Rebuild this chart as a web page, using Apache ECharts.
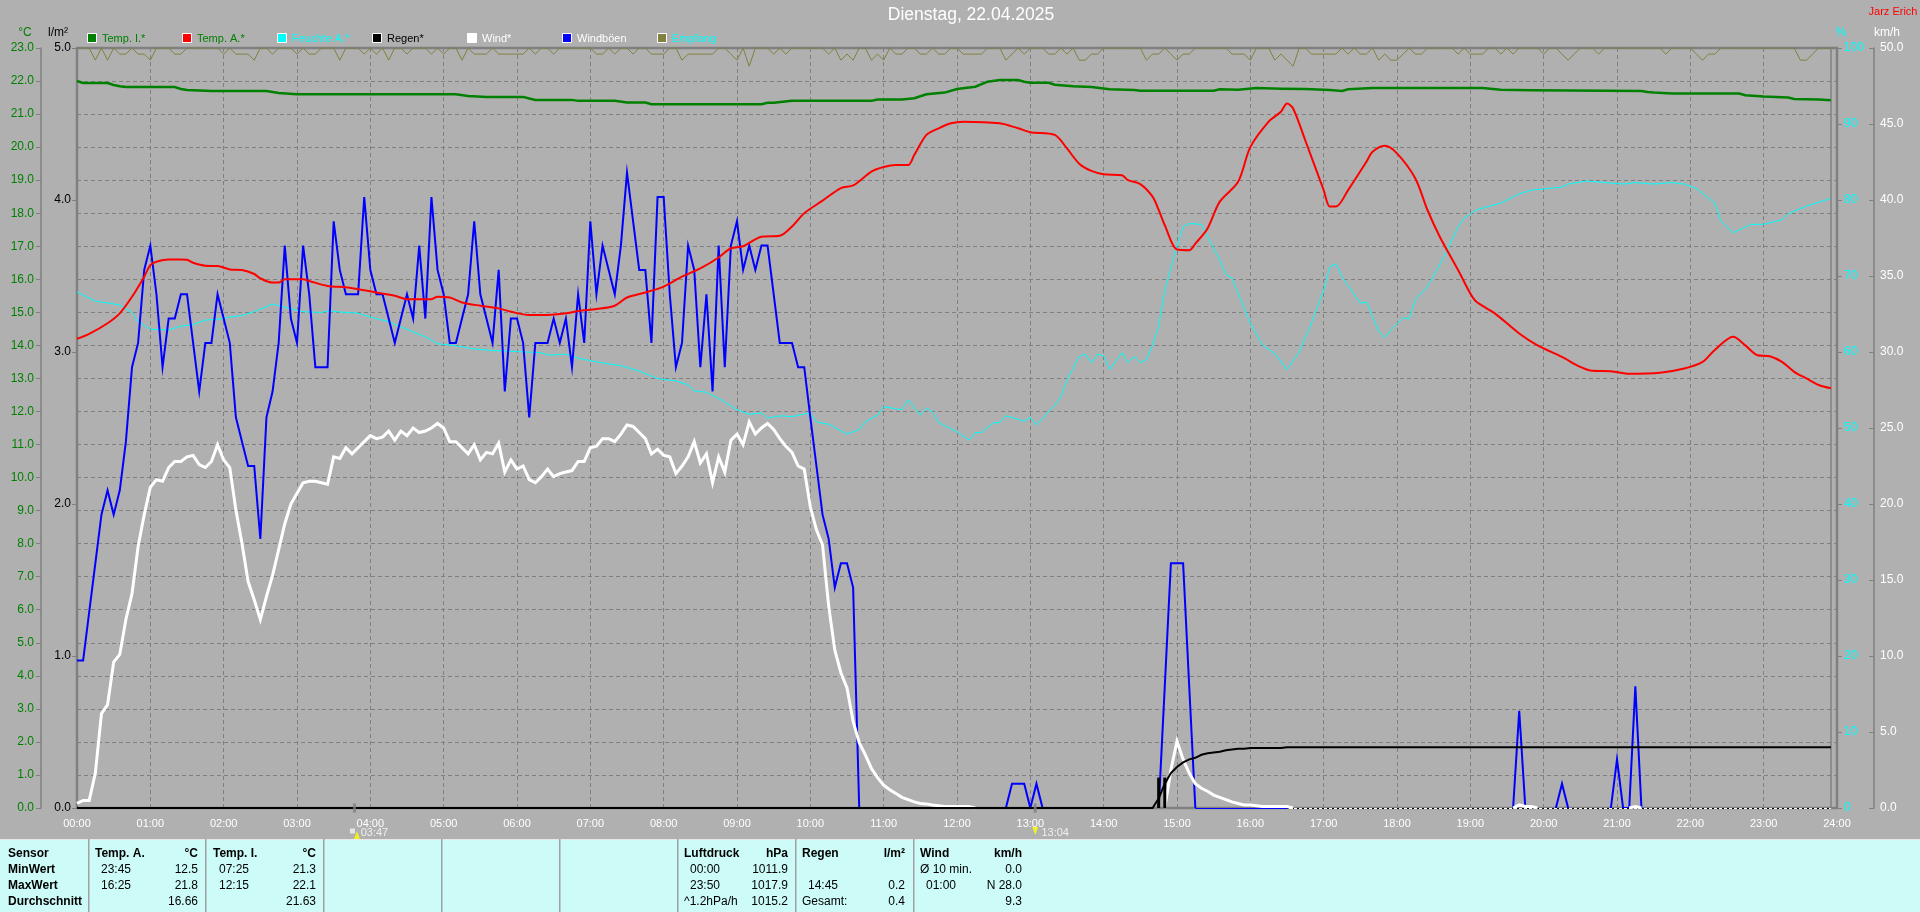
<!DOCTYPE html>
<html>
<head>
<meta charset="utf-8">
<title>Dienstag, 22.04.2025</title>
<script src="https://cdn.jsdelivr.net/npm/echarts@6/dist/echarts.min.js"></script>
<style>
html,body{margin:0;padding:0;background:#b0b0b0;overflow:hidden}
#chart{width:1920px;height:912px}
</style>
</head>
<body>
<div id="chart"></div>
<script>
// Five-minute samples, one row per hour
const gust = [
9.7,9.7,12.9,16.1,19.3,20.9,19.3,20.9,24.1,29,30.6,35.4,
37,33.8,29,32.2,32.2,33.8,33.8,30.6,27.4,30.6,30.6,33.8,
32.2,30.6,25.7,24.1,22.5,22.5,17.7,25.7,27.4,30.6,37,32.2,
30.6,37,33.8,29,29,29,38.6,35.4,33.8,33.8,33.8,40.2,
35.4,33.8,33.8,32.2,30.6,32.2,33.8,32.2,37,32.2,40.2,35.4,
33.8,30.6,30.6,32.2,33.8,38.6,33.8,32.2,30.6,35.4,27.4,32.2,
32.2,30.6,25.7,30.6,30.6,30.6,32.2,30.6,32.2,29,33.8,30.6,
38.6,33.8,37,35.4,33.8,37,41.8,38.6,35.4,35.4,30.6,40.2,
40.2,33.8,29,30.6,37,35.4,29,33.8,27.4,37,29,37,
38.6,35.4,37,35.4,37,37,33.8,30.6,30.6,30.6,29,29,
25.7,22.5,19.3,17.7,14.5,16.1,16.1,14.5,0,0,0,0,
0,0,0,0,0,0,0,0,0,0,0,0,
0,0,0,0,0,0,0,0,0,1.6,1.6,1.6,
0,1.6,0,0,0,0,0,0,0,0,0,0,
0,0,0,0,0,0,0,0,0,0,8,16.1,
16.1,16.1,8,0,0,0,0,0,0,0,0,0,
0,0,0,0,0,0,0,0,0,0,0,0,
0,0,0,0,0,0,0,0,0,0,0,0,
0,0,0,0,0,0,0,0,0,0,0,0,
0,0,0,0,0,0,0,0,6.4,0,0,0,
0,0,0,1.6,0,0,0,0,0,0,0,0,
3.2,0,0,8,0,0,0,0,0,0,0,0,
0,0,0,0,0,0,0,0,0,0,0,0,
0,0,0,0,0,0,0,0,0,0,0,0
];
const wind = [
.3,.5,.5,2.3,6.2,6.8,9.6,10.1,12.4,14.1,17.2,19.3,
21.1,21.6,21.5,22.4,22.8,22.8,23.1,23.2,22.6,22.4,22.8,23.9,
22.9,22.4,19.6,17.4,14.9,13.7,12.4,13.9,15.3,17,18.7,20,
20.7,21.4,21.5,21.5,21.4,21.3,23.1,23,23.7,23.3,23.7,24.1,
24.5,24.3,24.4,24.8,24.2,24.8,24.5,25,24.7,24.8,25,25.3,
25,24.1,24.1,23.7,23.3,23.9,22.9,23.4,23.3,24,22.1,22.9,
22.3,22.5,21.6,21.4,21.8,22.3,21.8,22,22.1,22.2,22.8,22.8,
23.7,23.8,24.3,24.3,24.1,24.6,25.2,25.1,24.7,24.3,23.3,23.6,
23.2,23.1,22,22.5,23.1,24.1,22.7,23.3,21.4,23.1,22.1,24.2,
24.6,23.9,25.4,24.6,25,25.3,24.9,24.3,23.8,23.4,22.5,22.3,
19.8,18.3,17.3,13.3,10.4,8.9,7.9,5.7,4.3,3.5,2.6,2,
1.5,1.2,.95,.7,.55,.4,.3,.27,.2,.15,.1,.1,
.1,.1,.1,0,0,0,0,0,0,0,0,0,
0,0,0,0,0,0,0,0,0,0,0,0,
0,0,0,0,0,0,0,0,0,0,0,2.5,
4.4,3.2,2.3,1.6,1.3,1.1,.85,.7,.55,.4,.3,.2,
.2,.15,.1,.1,.1,.1,.1,0,0,0,0,0,
0,0,0,0,0,0,0,0,0,0,0,0,
0,0,0,0,0,0,0,0,0,0,0,0,
0,0,0,0,0,0,0,0,.2,.1,.1,0,
0,0,0,0,0,0,0,0,0,0,0,0,
0,0,0,.1,0,0,0,0,0,0,0,0,
0,0,0,0,0,0,0,0,0,0,0,0,
0,0,0,0,0,0,0,0,0,0,0,0
];
const reception = [
100,100,100,98.4,100,98.4,100,99.2,99.2,100,99.2,99.2,
98.4,100,100,100,99.2,99.2,100,100,100,100,100,100,
99.2,100,99.2,99.2,99.2,98.4,100,100,99.2,100,100,100,
99.2,100,99.2,99.2,100,100,100,98.4,100,100,100,99.2,
100,99.2,100,98.4,100,100,99.2,100,100,100,99.2,100,
99.2,100,100,98.4,100,99.2,99.2,99.2,100,99.2,99.2,99.2,
99.2,99.2,100,99.2,100,100,99.2,100,100,100,100,100,
100,99.2,99.2,100,99.2,100,100,99.2,100,100,99.2,99.2,
99.2,100,100,98.4,99.2,99.2,99.2,99.2,99.2,100,100,99.2,
98.4,100,97.6,100,100,100,99.2,100,99.2,100,100,100,
100,100,100,99.2,100,98.4,99.2,98.4,100,100,98.4,99.2,
98.4,100,99.2,99.2,100,100,99.2,99.2,100,99.2,99.2,100,
100,99.2,99.2,99.2,99.2,100,100,100,98.4,99.2,100,99.2,
100,100,100,99.2,99.2,100,99.2,100,98.4,98.4,99.2,99.2,
100,100,100,100,100,100,100,98.4,99.2,99.2,100,99.2,
98.4,99.2,99.2,100,100,100,100,100,100,99.2,99.2,99.2,
98.4,100,100,100,98.4,99.2,98.4,97.6,100,100,99.2,99.2,
99.2,99.2,99.2,100,99.2,100,99.2,99.2,100,98.4,99.2,98.4,
98.4,99.2,100,99.2,99.2,100,100,100,100,100,99.2,100,
99.2,99.2,99.2,100,100,99.2,100,99.2,100,100,100,100,
99.2,100,100,99.2,98.4,99.2,100,100,100,99.2,100,100,
100,100,100,100,100,100,100,100,99.2,100,100,100,
100,99.2,98.4,99.2,99.2,100,100,100,100,100,100,100,
100,100,100,100,100,100,98.4,98.4,99.2,100,100,100
];
// [minute of day, reading]
const tempOutside = [[0,14.2],[10,14.35],[25,14.67],[35,14.97],[45,15.47],[55,16.08],[60,16.43],[65,16.53],[75,16.6],[85,16.6],[90,16.59],[95,16.5],[105,16.41],[115,16.4],[125,16.3],[135,16.28],[145,16.16],[150,16.03],[160,15.9],[165,15.9],[170,16],[185,16],[190,15.95],[205,15.8],[220,15.76],[230,15.7],[245,15.6],[260,15.5],[270,15.4],[290,15.4],[295,15.47],[305,15.45],[315,15.3],[330,15.2],[345,15.12],[355,15.02],[370,14.92],[385,14.92],[400,14.97],[410,15.04],[425,15.1],[440,15.2],[450,15.45],[465,15.6],[480,15.78],[495,16.08],[510,16.33],[525,16.66],[535,16.94],[545,17],[560,17.29],[575,17.32],[585,17.6],[595,18],[610,18.38],[625,18.76],[635,18.84],[650,19.26],[660,19.4],[670,19.46],[680,19.46],[685,19.76],[695,20.37],[705,20.57],[715,20.72],[725,20.77],[755,20.72],[770,20.57],[780,20.45],[800,20.37],[810,19.96],[820,19.5],[830,19.28],[840,19.18],[855,19.15],[860,19],[870,18.88],[880,18.5],[885,18.1],[890,17.64],[900,16.9],[910,16.88],[915,17.08],[925,17.54],[935,18.35],[950,18.95],[960,20],[975,20.77],[985,21.07],[990,21.32],[995,21.17],[1005,20.2],[1020,18.7],[1025,18.2],[1030,18.2],[1040,18.7],[1055,19.56],[1060,19.86],[1070,20.04],[1080,19.81],[1095,19.05],[1105,18.09],[1115,17.29],[1130,16.28],[1140,15.57],[1145,15.32],[1160,14.97],[1180,14.36],[1195,14],[1215,13.65],[1230,13.35],[1240,13.23],[1255,13.22],[1270,13.14],[1295,13.17],[1315,13.3],[1330,13.5],[1340,13.86],[1355,14.26],[1365,14],[1375,13.7],[1385,13.67],[1395,13.5],[1405,13.2],[1415,13],[1425,12.8],[1435,12.7]];
const tempInside = [[0,22],[5,21.94],[25,21.94],[30,21.88],[35,21.84],[40,21.82],[80,21.82],[85,21.76],[90,21.73],[110,21.7],[155,21.7],[165,21.64],[180,21.6],[310,21.6],[320,21.55],[335,21.52],[365,21.52],[370,21.47],[375,21.43],[405,21.43],[410,21.4],[440,21.4],[450,21.35],[465,21.35],[470,21.3],[560,21.3],[565,21.34],[570,21.34],[585,21.4],[650,21.4],[655,21.44],[675,21.44],[685,21.48],[695,21.6],[710,21.65],[720,21.76],[735,21.83],[745,21.98],[755,22.03],[770,22.03],[775,21.98],[780,21.95],[795,21.95],[800,21.89],[815,21.84],[830,21.82],[845,21.75],[865,21.73],[870,21.71],[930,21.71],[935,21.75],[950,21.74],[965,21.79],[985,21.77],[1005,21.76],[1025,21.73],[1035,21.7],[1040,21.75],[1060,21.79],[1150,21.79],[1165,21.74],[1190,21.72],[1280,21.7],[1285,21.67],[1290,21.65],[1305,21.62],[1360,21.62],[1365,21.57],[1380,21.53],[1400,21.5],[1405,21.46],[1425,21.44],[1435,21.42]];
const humidity = [[0,67.9],[15,66.7],[35,66.2],[45,65.2],[50,64],[60,63],[75,62.9],[85,63.4],[95,63.6],[105,64.2],[115,64.3],[125,64.6],[135,64.8],[145,65.3],[160,66.3],[175,65.7],[185,65.3],[200,65.2],[205,65.4],[220,65.2],[230,65.1],[240,64.6],[255,64],[265,63.3],[285,62],[295,61.1],[310,60.8],[325,60.4],[340,60.2],[355,60.1],[380,59.9],[385,59.6],[400,59.7],[410,59.2],[425,58.7],[445,58.2],[460,57.5],[475,56.5],[490,56.2],[500,55.7],[505,54.9],[515,54.7],[525,53.9],[540,52.4],[550,51.8],[560,52],[565,51.3],[575,51.6],[585,51.5],[600,52],[605,50.8],[615,50.5],[630,49.2],[640,49.8],[645,50.8],[655,51.7],[660,52.8],[675,52.4],[680,53.7],[690,51.7],[695,52.6],[700,52.1],[705,50.7],[720,49.5],[730,48.4],[735,49.4],[740,49.4],[750,50.7],[755,50.7],[760,51.6],[775,50.9],[780,51.4],[785,50.4],[800,53],[805,54.1],[810,56.3],[820,59.4],[825,59.7],[830,58.6],[835,59.7],[840,59.5],[845,57.7],[855,59.9],[860,58.6],[865,59.4],[870,58.6],[875,59],[880,60.9],[885,63.4],[890,68.1],[900,73.9],[905,76.5],[910,76.9],[920,76.8],[925,75.2],[935,72.1],[940,70.2],[945,69.7],[960,63.8],[970,60.9],[980,59.8],[990,57.7],[1000,60],[1010,63.8],[1020,68.1],[1025,71.2],[1030,71.6],[1035,69.9],[1050,66.4],[1055,66.6],[1065,62.7],[1070,61.9],[1075,62.9],[1085,64.5],[1090,64.4],[1095,66.9],[1105,68.6],[1120,73],[1130,76.5],[1135,77.6],[1145,78.7],[1165,79.6],[1180,80.8],[1190,81.3],[1215,81.7],[1220,82.1],[1235,82.5],[1265,82.1],[1275,82.3],[1290,82.1],[1305,82.3],[1315,82.1],[1325,81.5],[1340,79.6],[1345,77.2],[1355,75.7],[1370,76.8],[1380,76.8],[1395,77.4],[1400,78.2],[1415,79.2],[1435,80.2]];
const rainTotal = [[0,0],[880,0],[885,.063],[890,.16],[895,.23],[900,.27],[905,.3],[910,.32],[915,.33],[920,.35],[925,.36],[930,.365],[935,.37],[940,.38],[945,.385],[950,.39],[955,.39],[960,.395],[985,.395],[990,.4],[1435,.4]];
const rainBars = [[885,.2],[890,.2]];

const hourLabels = ['00:00','01:00','02:00','03:00','04:00','05:00','06:00','07:00','08:00','09:00','10:00','11:00','12:00','13:00','14:00','15:00','16:00','17:00','18:00','19:00','20:00','21:00','22:00','23:00','24:00'];
const sunEvents = [[227,'03:47'],[784,'13:04']];
const legendItems = [
  ['Temp. I.*','#008000','#008000'],['Temp. A.*','#ff0000','#008000'],['Feuchte A.*','#00ffff','#00ffff'],
  ['Regen*','#000000','#000000'],['Wind*','#ffffff','#ffffff'],['Windböen','#0000ff','#ffffff'],['Empfang','#808040','#00ffff']
];
const tableColumns = [
  [8,null,['Sensor','MinWert','MaxWert','Durchschnitt'],null],
  [95,198,['Temp. A.','23:45','16:25',''],['°C','12.5','21.8','16.66']],
  [213,316,['Temp. I.','07:25','12:15',''],['°C','21.3','22.1','21.63']],
  [684,788,['Luftdruck','00:00','23:50','^1.2hPa/h'],['hPa','1011.9','1017.9','1015.2']],
  [802,905,['Regen','','14:45','Gesamt:'],['l/m²','','0.2','0.4']],
  [920,1022,['Wind','Ø 10 min.','01:00',''],['km/h','0.0','N 28.0','9.3']]
];
const tableDividers = [88,205,323,441,559,677,795,913];

const FONT = '"Liberation Sans", Arial, sans-serif';
const GREY = '#808080';
const series5min = arr => arr.map((v,i)=>[i*5,v]);
// flat runs of zero are not stroked at full width; only the rises and falls are
const withoutFlatZero = arr => arr.map((v,i)=>[i*5,(v===0 && !arr[i-1] && !arr[i+1]) ? null : v]);

const graphic = [];
const txt = (x,y,text,fill,opt={}) => graphic.push({type:'text',silent:true,z:50,x,y,style:{text,fill,font:`${opt.weight||'normal'} ${opt.size||12}px ${FONT}`,align:opt.align||'left',verticalAlign:'middle'}});

txt(971,15,'Dienstag, 22.04.2025','#ffffff',{size:17.5,align:'center'});
txt(1893,12,'Jarz Erich','#ff0000',{size:11,align:'center'});
txt(25,33,'°C','#008000',{align:'center'});
txt(58,33,'l/m²','#000000',{align:'center'});
txt(1841,33,'%','#00ffff',{align:'center'});
txt(1887,33,'km/h','#ffffff',{align:'center'});

legendItems.forEach((it,i)=>{
  const x = 87 + i*95;
  graphic.push({type:'rect',silent:true,z:50,shape:{x:x+.5,y:33.5,width:9,height:9},style:{fill:it[1],stroke:'#ffffff',lineWidth:1}});
  txt(x+15,38.5,it[0],it[2],{size:11});
});

graphic.push({type:'rect',silent:true,z:40,shape:{x:0,y:839,width:1920,height:73},style:{fill:'#ccfbf8'}});
graphic.push({type:'rect',silent:true,z:41,shape:{x:0,y:839,width:1920,height:1},style:{fill:'#e8e8e8'}});
tableDividers.forEach(x=>graphic.push({type:'rect',silent:true,z:41,shape:{x:x,y:839,width:1.5,height:73},style:{fill:'#a0a0a0'}}));
const rowY = [854,870,886,902];
tableColumns.forEach((c,ci)=>{
  c[2].forEach((t,r)=>{ if(t){ const bold = r===0 || ci===0;
    txt(bold||t==='Gesamt:'||t==='^1.2hPa/h'||t==='Ø 10 min.'?c[0]:c[0]+6,rowY[r],t,'#000000',{weight:bold?'bold':'normal'}); }});
  if(c[3]) c[3].forEach((t,r)=>{ if(t) txt(c[1],rowY[r],t,'#000000',{align:'right',weight:r===0?'bold':'normal'}); });
});

const line = (name,data,color,width,yAxisIndex,z,extra={}) => Object.assign({
  name,type:'line',data,yAxisIndex,z,showSymbol:false,symbol:'none',smooth:false,animation:false,silent:true,
  lineStyle:{color,width,join:'miter',cap:'butt'},itemStyle:{color}
},extra);
const baseRun = (from,to,color,type) => ({silent:true,symbol:'none',animation:false,label:{show:false},
  lineStyle:{color,type,width:1},data:[[{coord:[from,0]},{coord:[to,0]}]]});

const axisFont = {fontSize:12,fontFamily:FONT,padding:[2,0,0,0]};
const option = {
  animation:false,
  backgroundColor:'#b0b0b0',
  textStyle:{fontFamily:FONT},
  grid:{left:77,top:48,width:1760,height:760,show:true,backgroundColor:'transparent',borderColor:GREY,borderWidth:2.5,containLabel:false},
  xAxis:{type:'value',min:0,max:1440,interval:60,
    axisLine:{show:false},axisTick:{show:false},
    axisLabel:{color:'#ffffff',fontSize:11,fontFamily:FONT,margin:10,hideOverlap:false,showMinLabel:true,showMaxLabel:true,
      formatter:v=>hourLabels[v/60]},
    splitLine:{show:true,lineStyle:{color:GREY,type:[4,3],width:1}}},
  yAxis:[
    {type:'value',position:'left',offset:36,min:0,max:23,interval:1,
      axisLine:{show:true,onZero:false,lineStyle:{color:GREY,width:1.5}},axisTick:{show:true,length:5,lineStyle:{color:GREY}},
      axisLabel:Object.assign({color:'#008000',margin:7,formatter:v=>v.toFixed(1)},axisFont),
      splitLine:{show:true,lineStyle:{color:GREY,type:[4,3],width:1}}},
    {type:'value',position:'left',offset:0,min:0,max:5,interval:1,
      axisLine:{show:false},axisTick:{show:true,length:5,lineStyle:{color:GREY}},
      axisLabel:Object.assign({color:'#000000',margin:6,formatter:v=>v.toFixed(1)},axisFont),
      splitLine:{show:false}},
    {type:'value',position:'right',offset:0,min:0,max:100,interval:10,
      axisLine:{show:false},axisTick:{show:true,length:5,lineStyle:{color:GREY}},
      axisLabel:Object.assign({color:'#00ffff',margin:7},axisFont),
      splitLine:{show:false}},
    {type:'value',position:'right',offset:37,min:0,max:50,interval:5,
      axisLine:{show:true,onZero:false,lineStyle:{color:GREY,width:1.5}},axisTick:{show:true,inside:true,length:5,lineStyle:{color:GREY}},
      axisLabel:Object.assign({color:'#ffffff',margin:6,formatter:v=>v.toFixed(1)},axisFont),
      splitLine:{show:false}}
  ],
  series:[
    line('Empfang',series5min(reception),'#808040',1,2,2,{
      markLine:{silent:true,symbol:'none',animation:false,label:{show:false},lineStyle:{color:GREY,type:'solid',width:1.5},data:[{xAxis:1435}]}}),
    line('Feuchte A.*',humidity,'#00ffff',1,2,3),
    line('Windböen',withoutFlatZero(gust),'#0000ff',2,3,4,{markLine:baseRun(915,990,'#0000ff','solid')}),
    line('Wind*',withoutFlatZero(wind),'#ffffff',3,3,5,{markLine:baseRun(990,1435,'#ffffff','solid')}),
    line('Temp. A.*',tempOutside,'#ff0000',2,0,6,{smooth:0.3}),
    line('Temp. I.*',tempInside,'#008000',2.5,0,7),
    line('Regen*',rainTotal,'#000000',2,1,8,{markLine:baseRun(990,1435,'#000000',[2,3])}),
    {name:'Regen',type:'bar',data:rainBars,yAxisIndex:1,barWidth:3,z:8,silent:true,animation:false,itemStyle:{color:'#000000'}},
    {name:'Sonne',type:'scatter',yAxisIndex:1,z:9,clip:false,silent:true,animation:false,symbol:'rect',symbolSize:[3,9],
      itemStyle:{color:GREY},
      data:sunEvents.map(e=>({value:[e[0],0],label:{show:true,formatter:e[1],position:'bottom',offset:[20,10],color:'#ffffff',fontSize:11,fontFamily:FONT}}))},
    {name:'Sonnenaufgang',type:'scatter',yAxisIndex:1,z:60,clip:false,silent:true,animation:false,symbol:'triangle',symbolSize:[6,8],
      symbolOffset:[2.5,27],itemStyle:{color:'#ffff00'},data:[[sunEvents[0][0],0]]},
    {name:'Sonnenuntergang',type:'scatter',yAxisIndex:1,z:60,clip:false,silent:true,animation:false,symbol:'triangle',symbolRotate:180,symbolSize:[6,8],
      symbolOffset:[0,23],itemStyle:{color:'#ffff00'},data:[[sunEvents[1][0],0]]},
    {name:'Sonnensymbol',type:'scatter',yAxisIndex:1,z:60,clip:false,silent:true,animation:false,symbol:'rect',symbolSize:5,
      symbolOffset:[-2,23],itemStyle:{color:'#f0f0ff'},data:[[sunEvents[0][0],0]]}
  ],
  graphic:{elements:graphic}
};
const chart = echarts.init(document.getElementById('chart'),null,{renderer:'canvas',width:1920,height:912});
chart.setOption(option);
</script>
</body>
</html>
